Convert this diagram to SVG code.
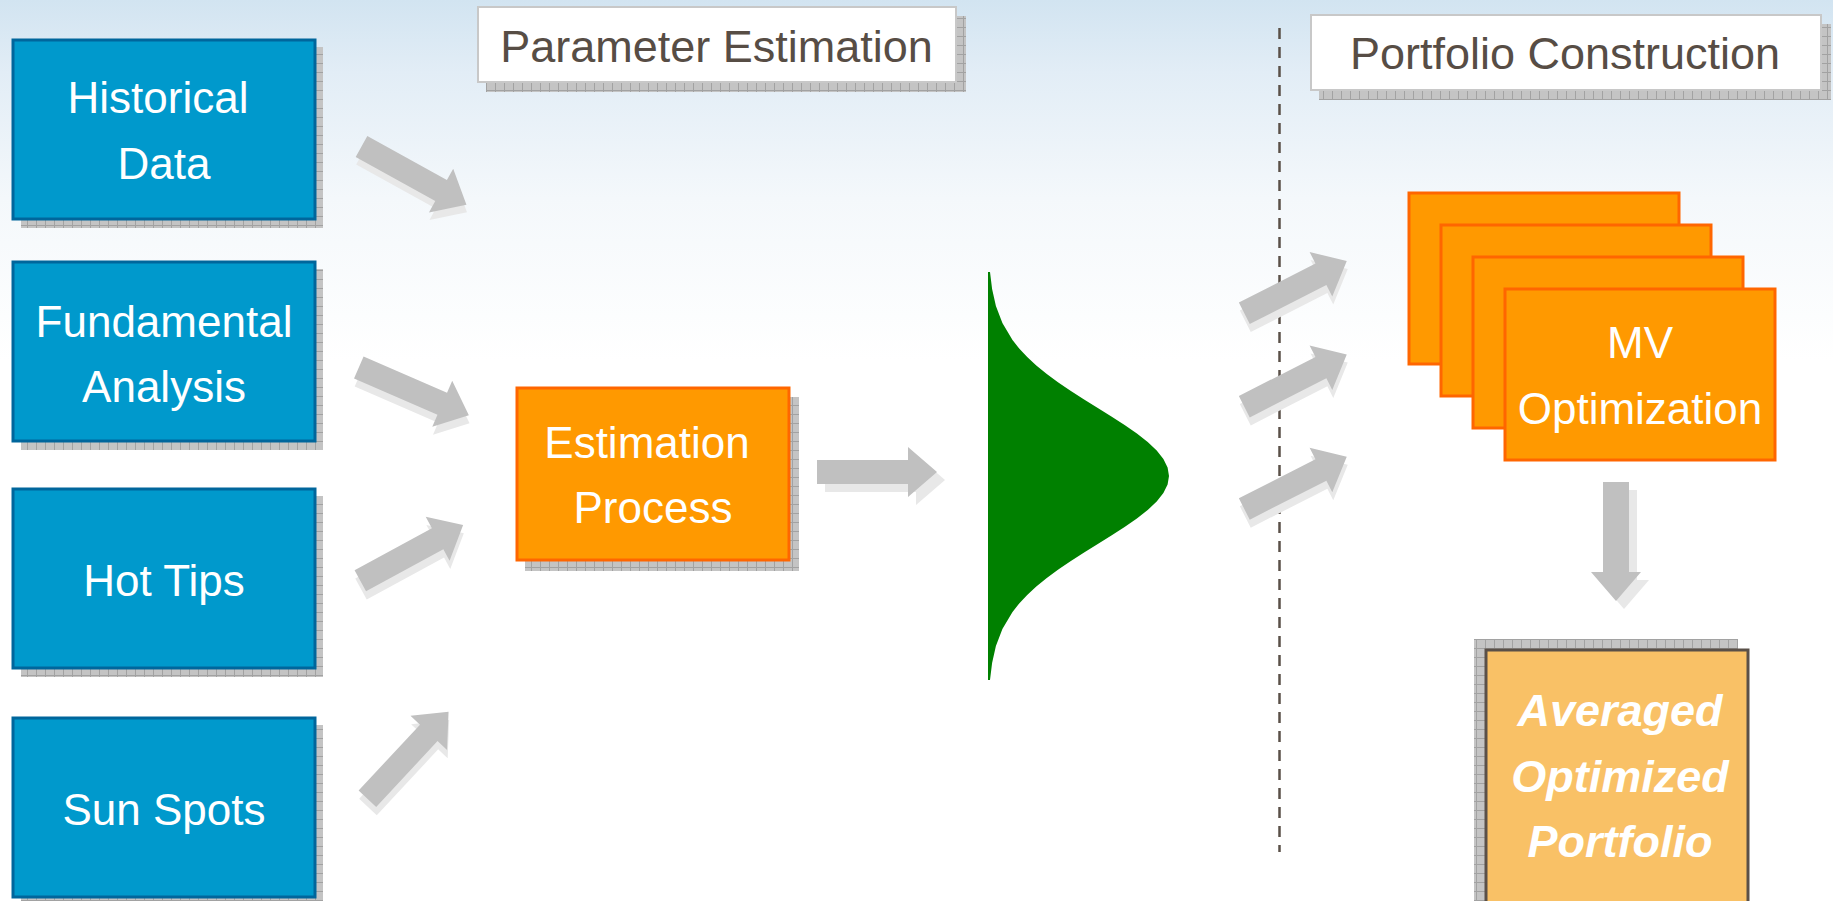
<svg xmlns="http://www.w3.org/2000/svg" width="1833" height="901" viewBox="0 0 1833 901">
<defs>
<linearGradient id="bg" x1="0" y1="0" x2="0" y2="1">
<stop offset="0" stop-color="#d2e4f1"/>
<stop offset="0.08" stop-color="#e2edf6"/>
<stop offset="0.22" stop-color="#f4f8fb"/>
<stop offset="0.4" stop-color="#ffffff"/>
</linearGradient>
<pattern id="chk" width="9" height="9" patternUnits="userSpaceOnUse">
<rect width="9" height="9" fill="#c4c4c4"/>
<path d="M0,0.5H9M0.5,0V9" stroke="#a2a2a2" stroke-width="1"/>
</pattern>
<style>
.shadow{fill:url(#chk)}
.blue{fill:#0099cc;stroke:#00669c;stroke-width:3}
.org{fill:#ff9900;stroke:#ff6600;stroke-width:3}
.title{fill:#ffffff;stroke:#c8c8c8;stroke-width:2}
.res{fill:#f9c166;stroke:#5a5048;stroke-width:3}
.wt{font-family:"Liberation Sans",Arial,sans-serif;font-size:44px;fill:#ffffff;text-anchor:middle}
.tt{font-family:"Liberation Sans",Arial,sans-serif;font-size:45px;fill:#574d45;text-anchor:middle}
.bi{font-family:"Liberation Sans",Arial,sans-serif;font-size:45px;font-weight:bold;font-style:italic;fill:#ffffff;text-anchor:middle}
.arr{fill:#c0c0c0}
.ash{fill:#e8e8e8}
.dash{stroke:#5a5048;stroke-width:2.5;stroke-dasharray:11 8;fill:none}
</style>
</defs>
<rect width="1833" height="901" fill="url(#bg)"/>

<g id="historical-data">
<rect class="shadow" x="21" y="47" width="302" height="181"/>
<rect class="blue" x="13" y="40" width="302" height="179"/>
<text class="wt" x="158" y="113">Historical</text>
<text class="wt" x="164" y="179">Data</text>
</g>
<g id="fundamental-analysis">
<rect class="shadow" x="21" y="269" width="302" height="181"/>
<rect class="blue" x="13" y="262" width="302" height="179"/>
<text class="wt" x="164" y="337">Fundamental</text>
<text class="wt" x="164" y="402">Analysis</text>
</g>
<g id="hot-tips">
<rect class="shadow" x="21" y="496" width="302" height="181"/>
<rect class="blue" x="13" y="489" width="302" height="179"/>
<text class="wt" x="164" y="596">Hot Tips</text>
</g>
<g id="sun-spots">
<rect class="shadow" x="21" y="725" width="302" height="181"/>
<rect class="blue" x="13" y="718" width="302" height="179"/>
<text class="wt" x="164" y="825">Sun Spots</text>
</g>

<g id="parameter-estimation">
<rect class="shadow" x="486" y="16" width="480" height="76"/>
<rect class="title" x="478" y="7" width="478" height="75"/>
<text class="tt" x="716.5" y="62">Parameter Estimation</text>
</g>

<g id="estimation-process">
<rect class="shadow" x="525" y="397" width="274" height="174"/>
<rect class="org" x="517" y="388" width="272" height="172"/>
<text class="wt" x="647" y="458">Estimation</text>
<text class="wt" x="653" y="523">Process</text>
</g>

<g id="distribution">
<polygon fill="#008000" points="988,272 990,272 992.1,289 995.9,306 1002.4,323 1012.5,340 1019.2,348.5 1027.2,357 1036.3,365.5 1046.8,374 1058.3,382.5 1070.9,391 1084.1,399.5 1097.8,408 1111.4,416.5 1124.6,425 1136.9,433.5 1147.7,442 1156.7,450.5 1163.4,459 1167.6,467.5 1169,476 1167.6,484.5 1163.4,493 1156.7,501.5 1147.7,510 1136.9,518.5 1124.6,527 1111.4,535.5 1097.8,544 1084.1,552.5 1070.9,561 1058.3,569.5 1046.8,578 1036.3,586.5 1027.2,595 1019.2,603.5 1012.5,612 1002.4,629 995.9,646 992.1,663 990,680 988,680"/>
</g>

<g id="portfolio-construction">
<rect class="shadow" x="1319" y="24" width="512" height="76"/>
<rect class="title" x="1311" y="15" width="510" height="75"/>
<text class="tt" x="1565" y="69">Portfolio Construction</text>
</g>

<g id="separator">
<line class="dash" x1="1279.5" y1="28" x2="1279.5" y2="852"/>
</g>

<g id="mv-optimization">
<rect class="org" x="1409" y="193" width="270" height="171"/>
<rect class="org" x="1441" y="225" width="270" height="171"/>
<rect class="org" x="1473" y="257" width="270" height="171"/>
<rect class="org" x="1505" y="289" width="270" height="171"/>
<text class="wt" x="1640" y="358">MV</text>
<text class="wt" x="1640" y="424" font-size="45">Optimization</text>
</g>

<g id="averaged-optimized-portfolio">
<rect class="shadow" x="1474" y="639" width="264" height="262"/>
<rect class="res" x="1486" y="650" width="262" height="253"/>
<text class="bi" x="1620" y="726">Averaged</text>
<text class="bi" x="1620" y="792">Optimized</text>
<text class="bi" x="1620" y="857">Portfolio</text>
</g>

<g id="connectors">
<path class="ash" transform="translate(362,154) rotate(29)" d="M0,-12H91V-25L120,0L91,25V12H0Z"/>
<path class="arr" transform="translate(361.5,146.5) rotate(29)" d="M0,-12H91V-25L120,0L91,25V12H0Z"/>
<path class="ash" transform="translate(359.5,375.5) rotate(23.5)" d="M0,-12H91V-25L120,0L91,25V12H0Z"/>
<path class="arr" transform="translate(358.8,367.5) rotate(23.5)" d="M0,-12H91V-25L120,0L91,25V12H0Z"/>
<path class="ash" transform="translate(361,589) rotate(-28.5)" d="M0,-12H88V-25L117,0L88,25V12H0Z"/>
<path class="arr" transform="translate(360.3,580.8) rotate(-28.5)" d="M0,-12H88V-25L117,0L88,25V12H0Z"/>
<path class="ash" transform="translate(368,807) rotate(-47)" d="M0,-12H90V-25L119,0L90,25V12H0Z"/>
<path class="arr" transform="translate(367.4,798.7) rotate(-47)" d="M0,-12H90V-25L119,0L90,25V12H0Z"/>
<path class="ash" transform="translate(825,480)" d="M0,-12H91V-25L120,0L91,25V12H0Z"/>
<path class="arr" transform="translate(817,472)" d="M0,-12H91V-25L120,0L91,25V12H0Z"/>
<path class="ash" transform="translate(1245.3,321.3) rotate(-27)" d="M0,-12H86V-25L115,0L86,25V12H0Z"/>
<path class="arr" transform="translate(1244.3,313.3) rotate(-27)" d="M0,-12H86V-25L115,0L86,25V12H0Z"/>
<path class="ash" transform="translate(1245.3,414.7) rotate(-27)" d="M0,-12H86V-25L115,0L86,25V12H0Z"/>
<path class="arr" transform="translate(1244.3,406.7) rotate(-27)" d="M0,-12H86V-25L115,0L86,25V12H0Z"/>
<path class="ash" transform="translate(1245.3,517) rotate(-27)" d="M0,-12H86V-25L115,0L86,25V12H0Z"/>
<path class="arr" transform="translate(1244.3,509) rotate(-27)" d="M0,-12H86V-25L115,0L86,25V12H0Z"/>
<path class="ash" transform="translate(1624,490) rotate(90)" d="M0,-13H90V-25L119,0L90,25V13H0Z"/>
<path class="arr" transform="translate(1616,482) rotate(90)" d="M0,-13H90V-25L119,0L90,25V13H0Z"/>
</g>
</svg>
